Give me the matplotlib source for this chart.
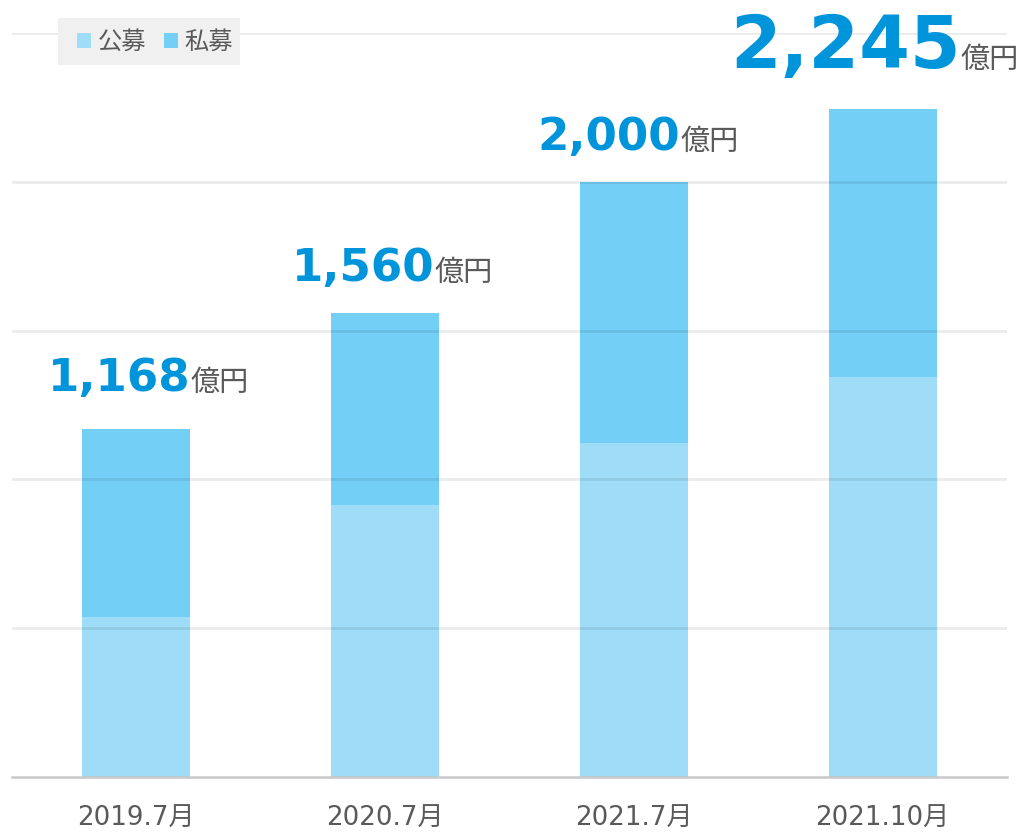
import matplotlib
matplotlib.use("Agg")
import matplotlib.pyplot as plt
from matplotlib.patches import Patch, Rectangle
import matplotlib.transforms as mtransforms

plt.rcParams['font.family'] = ['DejaVu Sans', 'Noto Sans CJK JP']

categories = ["2019.7月", "2020.7月", "2021.7月", "2021.10月"]
public = [538, 914, 1122, 1344]      # 公募
private = [630, 646, 878, 901]       # 私募
totals = [1168, 1560, 2000, 2245]
total_labels = ["1,168", "1,560", "2,000", "2,245"]
series_names = ["公募", "私募"]

c_pub = "#9edcf7"
c_pri = "#73cff6"
c_num = "#0095da"
c_gray = "#5a5a5a"

W, H = 1020, 832
fig = plt.figure(figsize=(W / 100, H / 100), dpi=100)
ax = fig.add_axes([12 / W, 55 / H, 995 / W, 744 / H])
x = list(range(len(categories)))
w = 0.435
ax.bar(x, public, width=w, color=c_pub, zorder=2, linewidth=0)
ax.bar(x, private, bottom=public, width=w, color=c_pri, zorder=2, linewidth=0)

ax.set_xlim(-0.5, 3.5)
ax.set_ylim(0, 2500)
ax.set_yticks([500, 1000, 1500, 2000, 2500])
ax.yaxis.grid(True, color="#000000", alpha=0.08, linewidth=2, zorder=3)
ax.set_axisbelow(False)
ax.tick_params(axis='y', left=False, labelleft=False)
ax.tick_params(axis='x', length=0, pad=21, labelsize=18.8, labelcolor=c_gray)
ax.set_xticks(x)
ax.set_xticklabels(categories)
for s in ["left", "right", "top"]:
    ax.spines[s].set_visible(False)
ax.spines["bottom"].set_color("#c8c8c8")
ax.spines["bottom"].set_linewidth(1.8)
ax.spines["bottom"].set_zorder(4)

# value labels
sizes = [32.5, 32.5, 32.5, 52.5]
offs = [38, 32, 32, 41]
dxs = [12, 7, 4, -8]
renderer = fig.canvas.get_renderer()
for i, (t, lab) in enumerate(zip(totals, total_labels)):
    tn = ax.text(i, t, lab, fontsize=sizes[i], fontweight='bold', color=c_num,
                 ha='right', va='baseline', family='DejaVu Sans', clip_on=False)
    tu = ax.text(i, t, "億円", fontsize=21, color=c_gray, ha='left', va='baseline',
                 family=['Noto Sans CJK JP', 'DejaVu Sans'], clip_on=False)
    wn = tn.get_window_extent(renderer).width
    wu = tu.get_window_extent(renderer).width
    shift = (wn - wu) / 2.0 + dxs[i]
    tr = mtransforms.offset_copy(ax.transData, fig=fig, x=shift * 72 / fig.dpi,
                                 y=offs[i] * 72 / fig.dpi, units='points')
    tn.set_transform(tr)
    tu.set_transform(tr)

# legend box
fig.patches.append(Rectangle((58 / W, 1 - 65 / H), 182 / W, 47 / H,
                             transform=fig.transFigure, facecolor="#f0f0f0",
                             edgecolor='none', zorder=5))
handles = [Patch(facecolor=c_pub, edgecolor='none'), Patch(facecolor=c_pri, edgecolor='none')]
leg = fig.legend(handles, series_names, loc='center left', bbox_to_anchor=(77 / W, 1 - 42 / H),
                 ncol=2, frameon=False,
                 handlelength=0.58, handleheight=0.58, handletextpad=0.29,
                 columnspacing=0.7, borderpad=0, borderaxespad=0,
                 prop={'family': ['Noto Sans CJK JP', 'DejaVu Sans'], 'size': 17.5})
leg.set_zorder(6)
for txt in leg.get_texts():
    txt.set_color(c_gray)

fig.savefig("out.png", dpi=100)
